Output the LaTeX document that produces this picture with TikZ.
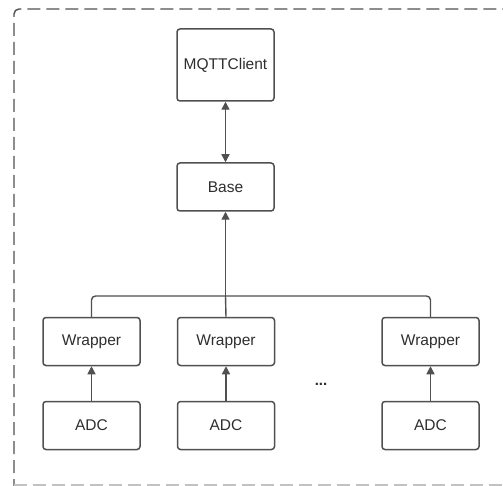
\documentclass[tikz,border=0pt]{standalone}
\usepackage{fontspec}
\setmainfont{Liberation Sans}
\usetikzlibrary{arrows.meta}
\definecolor{linegray}{HTML}{505050}
\definecolor{textgray}{HTML}{2E2E2E}
\tikzset{
  x=1pt, y=-1pt,
  box/.style={draw=linegray, line width=1.5pt, rounded corners=3pt,
    minimum width=97pt, minimum height=48pt, inner sep=0pt,
    font=\fontsize{15.5}{18}\selectfont, text=textgray},
  tall/.style={box, minimum height=72pt},
  link/.style={draw=linegray, line width=1.4pt},
  tip/.style={-{Triangle[length=8pt,width=8pt]}},
  frame/.style={draw=linegray, line width=1.4pt, dash pattern=on 13pt off 6pt}
}
\begin{document}
\begin{tikzpicture}
  \useasboundingbox (0,0) rectangle (503,486);
  \begin{scope}
    \clip (0,0) rectangle (503,486);
    % surrounding dashed frame
    \draw[frame, rounded corners=5pt] (14,492) -- (14,9) -- (520,9);
    \draw[frame, draw=linegray!35] (14,485) -- (520,485);
  \end{scope}

  % nodes
  \node[tall] (client) at (225.5,65) {MQTTClient};
  \node[box] (base) at (225.5,187) {Base};
  \node[box] (w1) at (91.5,341.5) {Wrapper};
  \node[box] (w2) at (226,341.5) {Wrapper};
  \node[box] (w3) at (430.5,341.5) {Wrapper};
  \node[box] (a1) at (91.5,425.5) {ADC};
  \node[box] (a2) at (226,425.5) {ADC};
  \node[box] (a3) at (430.5,425.5) {ADC};
  \node[text=textgray, font=\fontsize{15}{16}\selectfont\bfseries] (dots) at (321,384) {...};

  % connectors
  \draw[link, {Triangle[length=8pt,width=8pt]}-{Triangle[length=8pt,width=8pt]}]
    (client.south) -- (base.north);
  \coordinate (bus) at (225.5,296);
  \draw[link, tip] (bus) -- (base.south);
  \draw[link, rounded corners=4pt] (w1.north) |- (bus) -| (w3.north);
  \draw[link] (w2.north) -- (bus);
  \draw[link, tip] (a1.north) -- (w1.south);
  \draw[link, tip] (a2.north) -- (w2.south);
  \draw[link, tip] (a3.north) -- (w3.south);
\end{tikzpicture}
\end{document}
